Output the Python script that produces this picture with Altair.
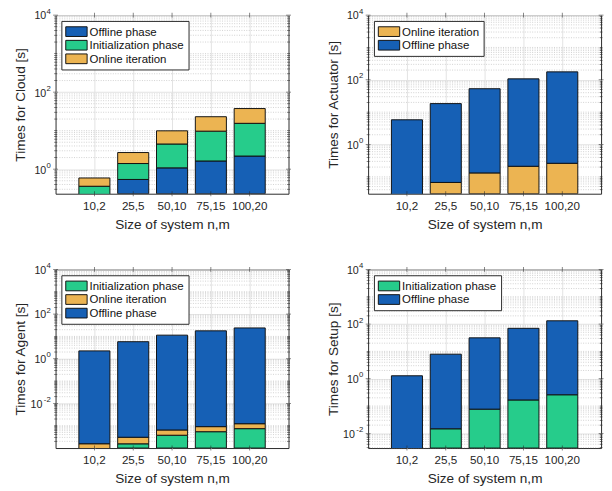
import altair as alt
import pandas as pd
import numpy as np

sizes = ["10,2", "25,5", "50,10", "75,15", "100,20"]

# segment values (bottom-to-top stacking order per panel)
cloud_offline = [0.15, 0.54, 1.08, 1.63, 2.19]
cloud_init = [0.21, 0.86, 3.42, 8.07, 13.3]
cloud_online = [0.23, 1.30, 5.40, 13.3, 22.0]

act_online = [0.02, 0.067, 0.132, 0.212, 0.262]
act_offline = [5.78, 18.3, 52.9, 106.8, 175.7]

agent_init = [8.0e-5, 1.55e-4, 3.75e-4, 5.4e-4, 7.4e-4]
agent_online = [7.6e-5, 1.5e-4, 2.7e-4, 3.7e-4, 4.9e-4]
agent_offline = [2.25, 5.8, 11.4, 17.8, 24.0]

setup_init = [0.002, 0.0147, 0.077, 0.167, 0.259]
setup_offline = [1.28, 7.89, 31.3, 69.8, 131.7]

BLUE = "#1660B5"
GREEN = "#26CC8B"
ORANGE = "#ECB452"
COLORS = {"Offline phase": BLUE, "Initialization phase": GREEN, "Online iteration": ORANGE}

FONT = "Liberation Sans"
INK = "#262626"
YMAX = 1e4
W, H = 240, 184


def panel(ylabel, stack, legend_order, ymin):
    rows = []
    cum = np.zeros(len(sizes))
    first = True
    for name, vals in stack:
        start = cum.copy()
        cum = cum + np.array(vals, dtype=float)
        for i, s in enumerate(sizes):
            rows.append({"size": s, "phase": name,
                         "start": ymin if first else start[i],
                         "end": cum[i]})
        first = False
    df = pd.DataFrame(rows)

    minor = []
    for k in range(-6, 4):
        for m in range(1, 10):
            v = m * 10.0 ** k
            if m == 1 and k % 2 == 0:
                continue
            if ymin < v < YMAX:
                minor.append(v)
    majors = [v for v in [1e-4, 1e-2, 1e0, 1e2, 1e4] if v > ymin * 1.05]
    lab = pd.DataFrame({"v": majors, "exp": [str(int(round(np.log10(v)))) for v in majors]})
    minor_df = pd.DataFrame({"v": minor})
    major_df = pd.DataFrame({"v": majors})
    cat_df = pd.DataFrame({"size": sizes})

    yscale = alt.Scale(type="log", domain=[ymin, YMAX], nice=False)
    yaxis = alt.Axis(title=ylabel, values=majors, labels=False, grid=True,
                     titleFontSize=14, minExtent=23, maxExtent=23, titlePadding=6)
    xscale = alt.Scale(paddingInner=0.2, paddingOuter=0.6)
    xaxis = alt.Axis(title="Size of system n,m", labelAngle=0, grid=True,
                     labelFontSize=12, titleFontSize=14, labelPadding=7, titlePadding=7)
    Y = lambda: alt.Y("v:Q", scale=yscale, axis=yaxis)

    grid = alt.Chart(minor_df).mark_rule(
        color="#bdbdbd", strokeWidth=0.7, strokeDash=[1, 1.5]
    ).encode(y=Y())

    bars = alt.Chart(df).mark_bar(stroke="#111111", strokeWidth=1, clip=True).encode(
        x=alt.X("size:N", sort=sizes, scale=xscale, axis=xaxis),
        y=alt.Y("start:Q", scale=yscale, axis=yaxis),
        y2="end:Q",
        color=alt.Color("phase:N",
                        scale=alt.Scale(domain=legend_order,
                                        range=[COLORS[n] for n in legend_order]),
                        legend=alt.Legend(orient="none", legendX=6, legendY=6, title=None)),
    )

    # inward ticks (MATLAB style box)
    tk = dict(color=INK, thickness=0.8, orient="horizontal")
    yt_major_l = alt.Chart(major_df).mark_tick(size=5, **tk).encode(y=Y(), x=alt.value(0))
    yt_major_r = alt.Chart(major_df).mark_tick(size=5, **tk).encode(y=Y(), x=alt.value(W))
    yt_minor_l = alt.Chart(minor_df).mark_tick(size=3, **tk).encode(y=Y(), x=alt.value(0))
    yt_minor_r = alt.Chart(minor_df).mark_tick(size=3, **tk).encode(y=Y(), x=alt.value(W))
    xt = dict(color=INK, thickness=0.8, orient="vertical", size=5)
    xt_b = alt.Chart(cat_df).mark_tick(**xt).encode(
        x=alt.X("size:N", sort=sizes, scale=xscale, axis=xaxis), y=alt.value(H))
    xt_t = alt.Chart(cat_df).mark_tick(**xt).encode(
        x=alt.X("size:N", sort=sizes, scale=xscale, axis=xaxis), y=alt.value(0))

    base_lab = alt.Chart(lab)
    ten1 = base_lab.transform_filter("length(datum.exp) == 1").mark_text(
        align="right", baseline="middle", fontSize=11, dx=-4.6, dy=1.5, font=FONT, color=INK
    ).encode(y=Y(), x=alt.value(-5), text=alt.value("10"))
    ten2 = base_lab.transform_filter("length(datum.exp) == 2").mark_text(
        align="right", baseline="middle", fontSize=11, dx=-8.6, dy=1.5, font=FONT, color=INK
    ).encode(y=Y(), x=alt.value(-5), text=alt.value("10"))
    expo = base_lab.mark_text(
        align="right", baseline="middle", fontSize=8, dy=-3.5, font=FONT, color=INK
    ).encode(y=Y(), x=alt.value(-5), text="exp:N")

    return alt.layer(grid, bars, yt_major_l, yt_major_r, yt_minor_l, yt_minor_r,
                     xt_b, xt_t, ten1, ten2, expo).properties(width=W, height=H)


p1 = panel("Times for Cloud [s]",
           [("Offline phase", cloud_offline), ("Initialization phase", cloud_init),
            ("Online iteration", cloud_online)],
           ["Offline phase", "Initialization phase", "Online iteration"], 0.23)
p2 = panel("Times for Actuator [s]",
           [("Online iteration", act_online), ("Offline phase", act_offline)],
           ["Online iteration", "Offline phase"], 0.03)
p3 = panel("Times for Agent [s]",
           [("Initialization phase", agent_init), ("Online iteration", agent_online),
            ("Offline phase", agent_offline)],
           ["Initialization phase", "Online iteration", "Offline phase"], 1e-4)
p4 = panel("Times for Setup [s]",
           [("Initialization phase", setup_init), ("Offline phase", setup_offline)],
           ["Initialization phase", "Offline phase"], 0.0029)

chart = alt.concat(p1, p2, p3, p4, columns=2, spacing={"row": 30, "column": 35}).resolve_scale(
    color="independent", y="independent", x="independent"
).resolve_legend(color="independent").properties(
    padding={"left": 5, "top": -8, "right": 0, "bottom": 0}, background="white"
).configure_view(stroke=INK, strokeWidth=1).configure_axis(
    labelFont=FONT, titleFont=FONT, labelColor=INK, titleColor=INK, domain=False, ticks=False,
    gridColor="#e2e2e2", gridWidth=1, titleFontWeight="normal"
).configure_legend(
    labelFont=FONT, labelFontSize=11.8, labelColor="#111111", fillColor="white",
    strokeColor=INK, padding=4, rowPadding=0, labelOffset=11,
    symbolType="M-1,-0.769H2.385V0.769H-1Z", symbolSize=169, symbolStrokeColor="#111111",
    symbolStrokeWidth=1, symbolOpacity=1
)

chart.save("out.html", embed_options={"renderer": "svg", "actions": False})
